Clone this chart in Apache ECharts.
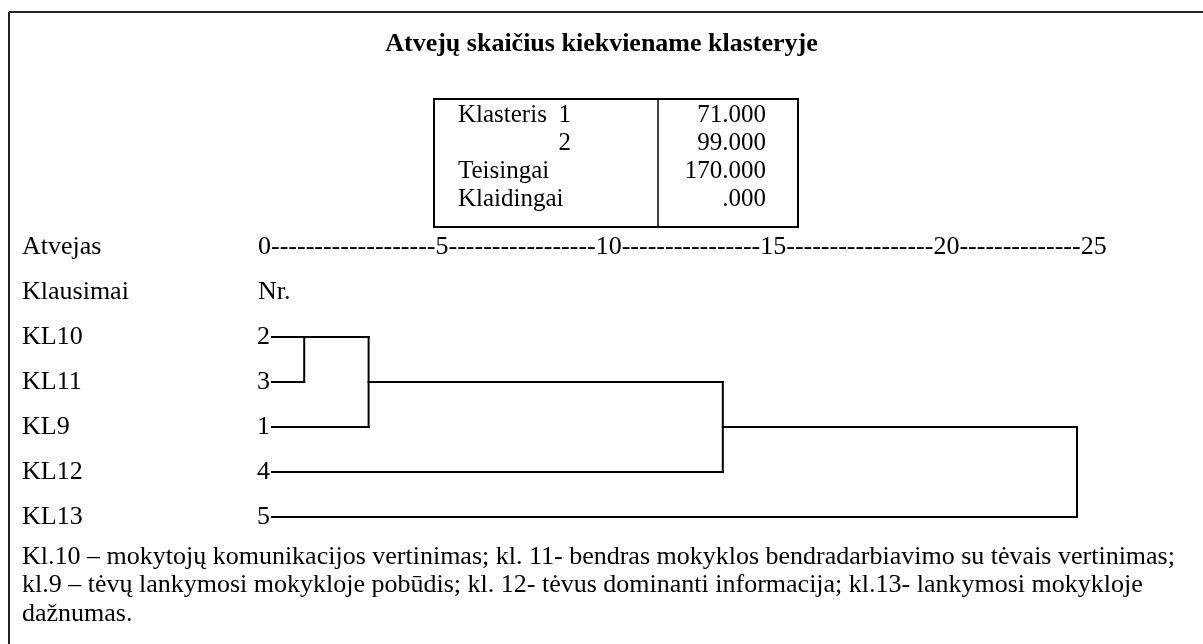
<!DOCTYPE html>
<html><head><meta charset="utf-8">
<script src="https://cdn.jsdelivr.net/npm/echarts@6/dist/echarts.min.js"></script>
<style>html,body{margin:0;padding:0;background:#fff}#c{width:1203px;height:644px}</style>
</head><body><div id="c"></div>
<script>
// ---- data ----
const titleText = 'Atvejų skaičius kiekviename klasteryje';
const tableRows = [
  ['Klasteris', '1', '71.000'],
  ['', '2', '99.000'],
  ['Teisingai', '', '170.000'],
  ['Klaidingai', '', '.000']
];
const tickLabels = ['0', '5', '10', '15', '20', '25'];
const dashCounts = [19, 17, 16, 17, 14];
const questions = ['KL10', 'KL11', 'KL9', 'KL12', 'KL13'];
const leafNumbers = ['2', '3', '1', '4', '5'];
// agglomeration: [cluster a, cluster b, rescaled distance]
const merges = [['2', '3', 1], ['2', '1', 3], ['2', '4', 14], ['2', '5', 25]];
const footnote = [
  'Kl.10 – mokytojų komunikacijos vertinimas; kl. 11- bendras mokyklos bendradarbiavimo su tėvais vertinimas;',
  'kl.9 – tėvų lankymosi mokykloje pobūdis; kl. 12- tėvus dominanti informacija; kl.13- lankymosi mokykloje',
  'dažnumas.'
];

// ---- build ----
const FONT = "'Liberation Serif', 'Times New Roman', serif";
const FS = 26;
const clusters = {};
leafNumbers.forEach((n, i) => { clusters[n] = { row: i, x: 0 }; });
const segs = [];
merges.forEach(([a, b, d]) => {
  const A = clusters[a], B = clusters[b];
  segs.push([[A.x, A.row], [d, A.row]]);
  segs.push([[B.x, B.row], [d, B.row]]);
  segs.push([[d, A.row], [d, B.row]]);
  clusters[a] = { row: Math.floor((A.row + B.row) / 2), x: d };
  delete clusters[b];
});
const series = segs.map(s => ({
  type: 'line', data: s, symbol: 'none', silent: true,
  lineStyle: { color: '#000', width: 2, cap: 'square' }, animation: false,
  xAxisIndex: 0, yAxisIndex: 0
}));

let axisStr = tickLabels[0];
for (let i = 1; i < tickLabels.length; i++) axisStr += '-'.repeat(dashCounts[i - 1]) + tickLabels[i];

const txt = (x, y, text, size, extra) => ({
  type: 'text', x, y, silent: true,
  style: Object.assign({ text, fill: '#000', font: size + 'px ' + FONT, textVerticalAlign: 'middle' }, extra || {})
});

const graphics = [
  { type: 'line', shape: { x1: 9, y1: 12, x2: 1203, y2: 12 }, style: { stroke: '#222', lineWidth: 2 } },
  { type: 'line', shape: { x1: 9, y1: 12, x2: 9, y2: 644 }, style: { stroke: '#222', lineWidth: 2 } },
  { type: 'rect', shape: { x: 434, y: 99, width: 364, height: 128 }, style: { stroke: '#000', fill: 'none', lineWidth: 2 } },
  { type: 'line', shape: { x1: 658, y1: 99, x2: 658, y2: 227 }, style: { stroke: '#000', lineWidth: 1.5 } },
  txt(22, 247, 'Atvejas', FS),
  txt(258, 247, axisStr, FS),
  txt(22, 292, 'Klausimai', FS),
  txt(258, 292, 'Nr.', FS)
];
const rowY = [115, 143, 171, 199];
tableRows.forEach((r, i) => {
  if (r[0]) graphics.push(txt(458, rowY[i], r[0], 25));
  if (r[1]) graphics.push(txt(571, rowY[i], r[1], 25, { textAlign: 'right' }));
  graphics.push(txt(766, rowY[i], r[2], 25, { textAlign: 'right' }));
});
footnote.forEach((l, i) => graphics.push(txt(22, 557 + i * 28.5, l, FS)));

const chart = echarts.init(document.getElementById('c'), null, { renderer: 'canvas' });
chart.setOption({
  animation: false,
  backgroundColor: '#fff',
  title: {
    text: titleText, left: 'center', top: 26,
    textStyle: { fontFamily: FONT, fontWeight: 'bold', fontSize: 26, color: '#000' }
  },
  grid: { left: 272, top: 337, width: 805, height: 180, containLabel: false },
  xAxis: { type: 'value', min: 0, max: 25, show: false },
  yAxis: [
    { type: 'category', data: leafNumbers, inverse: true, boundaryGap: false,
      axisLine: { show: false }, axisTick: { show: false }, splitLine: { show: false },
      axisLabel: { interval: 0, margin: 2, fontFamily: FONT, fontSize: FS, color: '#000' } },
    { type: 'category', data: questions, inverse: true, boundaryGap: false, position: 'left',
      axisLine: { show: false }, axisTick: { show: false }, splitLine: { show: false },
      axisLabel: { interval: 0, margin: 250, align: 'left', fontFamily: FONT, fontSize: FS, color: '#000' } }
  ],
  series,
  graphic: graphics
});
</script></body></html>
